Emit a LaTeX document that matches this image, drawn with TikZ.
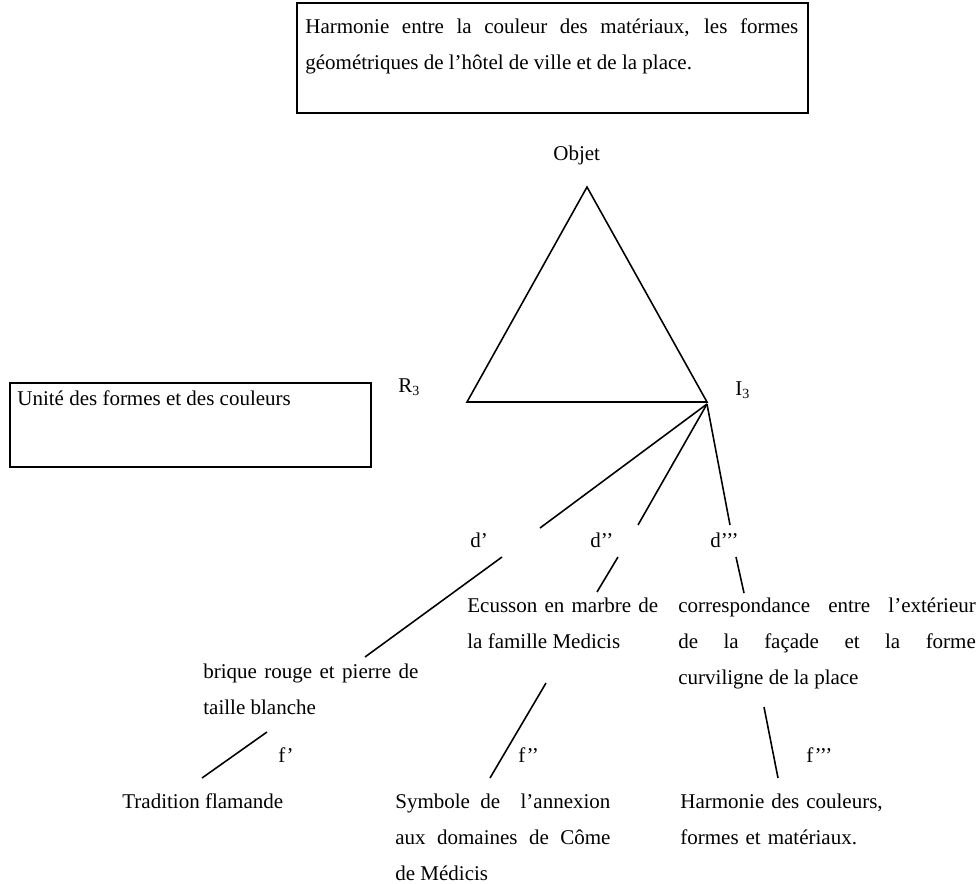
\documentclass[tikz,border=0pt]{standalone}
\usepackage{fontspec}
\setmainfont{Liberation Serif}
\begin{document}
\begin{tikzpicture}[x=0.5714pt,y=-0.5714pt,
  txt/.style={anchor=base west,inner sep=0pt,font=\fontsize{12pt}{20.8pt}\selectfont},
  para/.style={txt,align=justify,text width=#1},
  lpara/.style={txt,align=left,text width=#1},
  frame/.style={draw,line width=1.2pt},
  link/.style={line width=0.9pt}]
\useasboundingbox (0,0) rectangle (976,883);

% framed statements
\draw[frame] (297,3) rectangle (808,113);
\node[para=281.7pt] (harm) at (305,33)
  {Harmonie entre la couleur des matériaux, les formes\linebreak
   géométriques de l’hôtel de ville et de la place.};
\draw[frame] (10,383) rectangle (371,467);
\node[txt] (unite) at (17,405) {Unité des formes et des couleurs};

% semiotic triangle
\coordinate (obj) at (587,187);
\coordinate (rep) at (467,402);
\coordinate (int) at (707,402);
\draw[link,line join=miter] (obj) -- (rep) -- (int) -- cycle;
\node[txt] (objet) at (553,160) {Objet};
\node[txt] (r3) at (398,392) {R\textsubscript{3}};
\node[txt] (i3) at (735,395) {I\textsubscript{3}};

% fan of interpretants
\coordinate (fan) at (707,404);
\coordinate (d1a) at (540,528);
\coordinate (d2a) at (638,525);
\coordinate (d3a) at (730,525);
\draw[link] (fan) -- (d1a);
\draw[link] (fan) -- (d2a);
\draw[link] (fan) -- (d3a);
\node[txt] (d1) at (470,547) {d’};
\node[txt] (d2) at (590,547) {d’’};
\node[txt] (d3) at (710,547) {d’’’};

% second level
\node[para=122.9pt] (brique) at (203,678)
  {brique rouge et pierre de\linebreak taille blanche};
\node[para=109pt] (ecusson) at (467,612)
  {Ecusson en marbre de\linebreak la famille Medicis};
\node[para=170pt] (corresp) at (678,612)
  {correspondance entre l’extérieur\linebreak de la façade et la forme\linebreak curviligne de la place};
\coordinate (d1b) at (502,557);  \coordinate (d1c) at (365,657);
\coordinate (d2b) at (618,557);  \coordinate (d2c) at (597,592);
\coordinate (d3b) at (736,557);  \coordinate (d3c) at (744,593);
\draw[link] (d1b) -- (d1c);
\draw[link] (d2b) -- (d2c);
\draw[link] (d3b) -- (d3c);

% third level
\coordinate (f1a) at (267,732);  \coordinate (f1b) at (202,778);
\coordinate (f2a) at (546,683);  \coordinate (f2b) at (490,778);
\coordinate (f3a) at (764,707);  \coordinate (f3b) at (778,778);
\draw[link] (f1a) -- (f1b);
\draw[link] (f2a) -- (f2b);
\draw[link] (f3a) -- (f3b);
\node[txt] (f1) at (278,762) {f’};
\node[txt] (f2) at (518,762) {f’’};
\node[txt] (f3) at (806,762) {f’’’};

\node[txt] (trad) at (122,808) {Tradition flamande};
\node[para=122.9pt] (symb) at (395,808)
  {Symbole de\ \ l’annexion\linebreak aux domaines de Côme\linebreak de Médicis};
\node[lpara=130pt] (harmc) at (680,808)
  {Harmonie des couleurs,\\ formes et matériaux.};
\end{tikzpicture}
\end{document}
